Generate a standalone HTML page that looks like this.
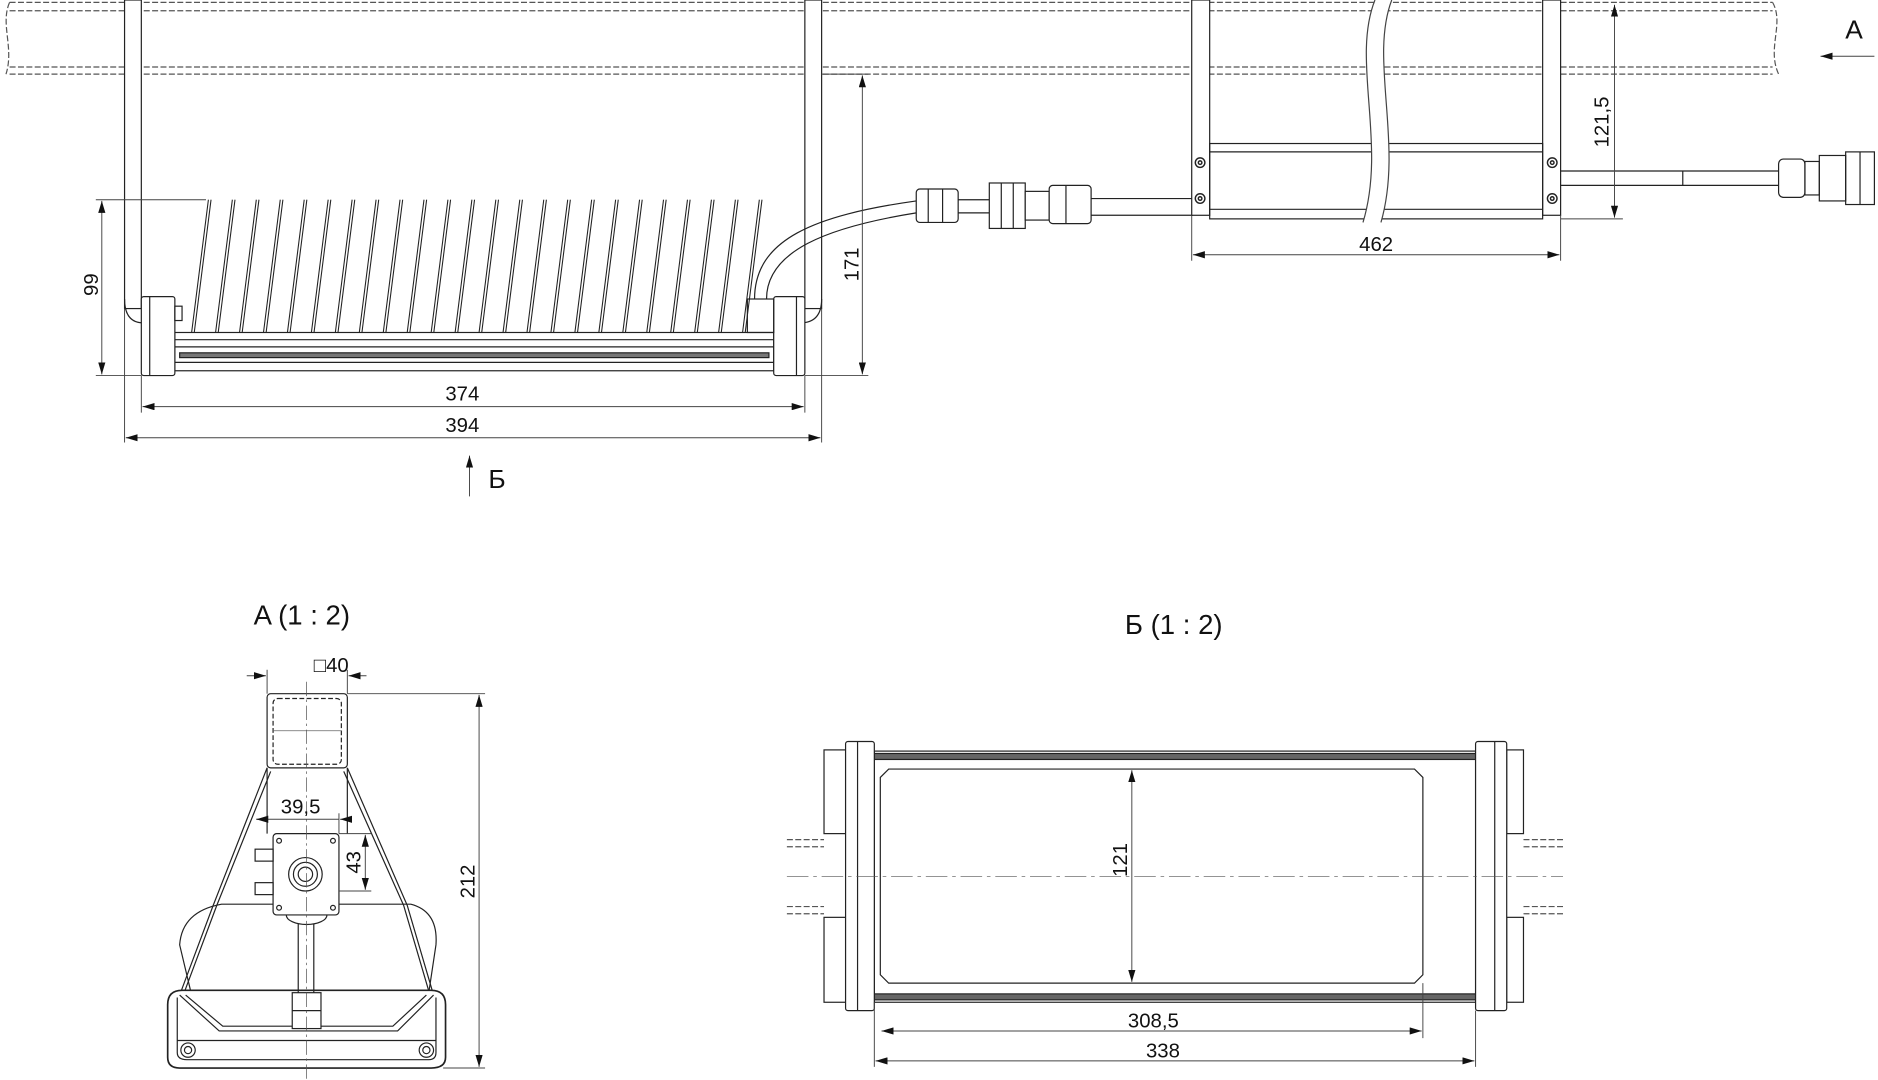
<!DOCTYPE html>
<html><head><meta charset="utf-8"><style>
html,body{margin:0;padding:0;background:#fff;}
svg{display:block;}
text{font-family:"Liberation Sans","DejaVu Sans",sans-serif;fill:#111;}
</style></head><body>
<svg width="1878" height="1080" viewBox="0 0 1568 903" preserveAspectRatio="none" xmlns="http://www.w3.org/2000/svg">
<defs>
<marker id="a" viewBox="0 0 10 6" refX="10" refY="3" markerWidth="10" markerHeight="6" orient="auto-start-reverse" markerUnits="userSpaceOnUse"><path d="M0,0 L10,3 L0,6 Z" fill="#111"/></marker>
</defs>
<g fill="none" stroke="#222" stroke-width="1">
<!-- pipe -->
<g stroke-dasharray="5,2" stroke="#555">
<line x1="8" y1="2" x2="1480" y2="2"/><line x1="8" y1="9" x2="1480" y2="9"/>
<line x1="8" y1="56" x2="1480" y2="56"/><line x1="8" y1="62" x2="1480" y2="62"/>
<path d="M8,2 C0,20 12,40 5,62"/><path d="M1480,2 C1490,20 1475,40 1485,62"/>
</g>
<!-- left brackets -->
<rect x="104" y="0" width="14" height="258" fill="#fff"/>
<path d="M104,250 Q104,270 120,270"/>
<rect x="672" y="0" width="14" height="258" fill="#fff"/>
<path d="M686,250 Q686,270 668,270"/>
<!-- slats -->
<g stroke-width="0.9">
<path d="M174,167 L160,278 M194,167 L180,278 M214,167 L200,278 M234,167 L220,278 M254,167 L240,278 M274,167 L260,278 M294,167 L280,278 M314,167 L300,278 M334,167 L320,278 M354,167 L340,278 M374,167 L360,278 M394,167 L380,278 M414,167 L400,278 M434,167 L420,278 M454,167 L440,278 M474,167 L460,278 M494,167 L480,278 M514,167 L500,278 M534,167 L520,278 M554,167 L540,278 M574,167 L560,278 M594,167 L580,278 M614,167 L600,278 M634,167 L620,278"/>
<path transform="translate(2.2,0)" d="M174,167 L160,278 M194,167 L180,278 M214,167 L200,278 M234,167 L220,278 M254,167 L240,278 M274,167 L260,278 M294,167 L280,278 M314,167 L300,278 M334,167 L320,278 M354,167 L340,278 M374,167 L360,278 M394,167 L380,278 M414,167 L400,278 M434,167 L420,278 M454,167 L440,278 M474,167 L460,278 M494,167 L480,278 M514,167 L500,278 M534,167 L520,278 M554,167 L540,278 M574,167 L560,278 M594,167 L580,278 M614,167 L600,278 M634,167 L620,278"/>
</g>
<!-- bar -->
<rect x="146" y="278" width="500" height="32" fill="#fff"/>
<line x1="146" y1="284" x2="646" y2="284"/><line x1="146" y1="290" x2="646" y2="290"/>
<rect x="150" y="295" width="492" height="4" fill="#777"/>
<line x1="146" y1="303" x2="646" y2="303"/>
<rect x="118" y="248" width="28" height="66" fill="#fff" rx="2"/><line x1="125" y1="248" x2="125" y2="314"/>
<rect x="646" y="248" width="26" height="66" fill="#fff" rx="2"/><line x1="665" y1="248" x2="665" y2="314"/>
<rect x="146" y="256" width="6" height="12"/><rect x="624" y="250" width="22" height="28"/>
<!-- cable -->
<path d="M630,250 C630,200 680,180 765,168"/><path d="M640,250 C640,210 690,190 765,178"/>
<rect x="765" y="158" width="35" height="28" rx="3" fill="#fff"/>
<line x1="775" y1="158" x2="775" y2="186"/><line x1="787" y1="158" x2="787" y2="186"/>
<line x1="800" y1="167" x2="826" y2="167"/><line x1="800" y1="178" x2="826" y2="178"/>
<rect x="826" y="153" width="30" height="38" fill="#fff"/><line x1="836" y1="153" x2="836" y2="191"/><line x1="846" y1="153" x2="846" y2="191"/>
<rect x="856" y="160" width="20" height="24" fill="#fff"/>
<rect x="876" y="155" width="35" height="32" rx="3" fill="#fff"/><line x1="890" y1="155" x2="890" y2="187"/>
<line x1="911" y1="166" x2="996" y2="166"/><line x1="911" y1="180" x2="996" y2="180"/>
<!-- box -->
<rect x="995" y="0" width="15" height="180" fill="#fff"/>
<rect x="1288" y="0" width="15" height="180" fill="#fff"/>
<rect x="1010" y="120" width="278" height="63"/><line x1="1010" y1="127" x2="1288" y2="127"/><line x1="1010" y1="175" x2="1288" y2="175"/>
<!-- break -->
<path d="M1148,0 C1128,50 1158,120 1138,186 L1153,186 C1172,120 1143,50 1162,0 Z" fill="#fff" stroke="none"/>
<path d="M1148,0 C1128,50 1158,120 1138,186" stroke="#444"/>
<path d="M1162,0 C1143,50 1172,120 1153,186" stroke="#444"/>
<g stroke-width="1.2"><circle cx="1002" cy="136" r="4"/><circle cx="1002" cy="136" r="1.5"/><circle cx="1002" cy="166" r="4"/><circle cx="1002" cy="166" r="1.5"/><circle cx="1296" cy="136" r="4"/><circle cx="1296" cy="136" r="1.5"/><circle cx="1296" cy="166" r="4"/><circle cx="1296" cy="166" r="1.5"/></g>
<line x1="1303" y1="143" x2="1485" y2="143"/><line x1="1303" y1="155" x2="1485" y2="155"/><line x1="1405" y1="143" x2="1405" y2="155"/>
<rect x="1485" y="133" width="22" height="32" rx="4" fill="#fff"/><rect x="1507" y="135" width="12" height="28"/>
<rect x="1519" y="130" width="22" height="38"/><rect x="1541" y="127" width="24" height="44"/>
<line x1="1553" y1="127" x2="1553" y2="171"/>
<!-- dims top -->
<g stroke="#444" stroke-width="0.8">
<line x1="80" y1="167" x2="172" y2="167"/><line x1="80" y1="314" x2="118" y2="314"/>
<line x1="85" y1="168" x2="85" y2="313" marker-start="url(#a)" marker-end="url(#a)"/>
<line x1="686" y1="62" x2="725" y2="62"/><line x1="672" y1="314" x2="725" y2="314"/>
<line x1="720" y1="63" x2="720" y2="313" marker-start="url(#a)" marker-end="url(#a)"/>
<line x1="118" y1="314" x2="118" y2="345"/><line x1="672" y1="314" x2="672" y2="345"/>
<line x1="119" y1="340" x2="671" y2="340" marker-start="url(#a)" marker-end="url(#a)"/>
<line x1="104" y1="258" x2="104" y2="370"/><line x1="686" y1="258" x2="686" y2="370"/>
<line x1="105" y1="366" x2="685" y2="366" marker-start="url(#a)" marker-end="url(#a)"/>
<line x1="995" y1="180" x2="995" y2="218"/><line x1="1303" y1="180" x2="1303" y2="218"/>
<line x1="996" y1="213" x2="1302" y2="213" marker-start="url(#a)" marker-end="url(#a)"/>
<line x1="1303" y1="183" x2="1355" y2="183"/>
<line x1="1348" y1="4" x2="1348" y2="182" marker-start="url(#a)" marker-end="url(#a)"/>
<line x1="1565" y1="47" x2="1520" y2="47" marker-end="url(#a)"/>
<line x1="392" y1="415" x2="392" y2="381" marker-end="url(#a)"/>
</g>
<!-- View A -->
<rect x="223" y="580" width="67" height="62" rx="3" fill="#fff"/>
<rect x="228" y="584" width="57" height="55" rx="4" stroke-dasharray="4,2"/>
<line x1="228" y1="611" x2="285" y2="611" stroke="#666" stroke-width="0.7"/>
<line x1="223" y1="642" x2="223" y2="697"/><line x1="290" y1="642" x2="290" y2="697"/>
<path d="M223,642 L178,757 L150,832"/><path d="M226,645 L181,757 L153,832"/>
<path d="M290,642 L340,757 L362,832"/><path d="M287,645 L337,757 L359,832"/>
<path d="M160,832 L150,790 Q152,762 185,756 L343,756 Q366,762 364,790 L358,830"/>
<path d="M152,828 Q140,828 140,840 L140,884 Q140,893 150,893 L360,893 Q372,893 372,884 L372,840 Q372,828 360,828 Z" fill="#fff" stroke-width="1.4"/>
<path d="M148,834 L148,880 Q148,886 156,886 L358,886 Q364,886 364,880 L364,834"/>
<path d="M150,832 L183,862 L332,862 L362,832"/><path d="M155,832 L186,858 L328,858 L356,832"/>
<line x1="148" y1="870" x2="364" y2="870"/>
<circle cx="157" cy="878" r="6"/><circle cx="157" cy="878" r="3"/><circle cx="356" cy="878" r="6"/><circle cx="356" cy="878" r="3"/>
<path d="M249,768 L249,830 M262,768 L262,830"/>
<rect x="244" y="830" width="24" height="30" fill="#fff"/><line x1="244" y1="845" x2="268" y2="845"/>
<ellipse cx="256" cy="765" rx="17" ry="8" fill="#fff"/>
<rect x="228" y="697" width="55" height="68" rx="3" fill="#fff"/>
<circle cx="233" cy="703" r="2"/><circle cx="278" cy="703" r="2"/><circle cx="233" cy="759" r="2"/><circle cx="278" cy="759" r="2"/>
<circle cx="255" cy="731" r="14"/><circle cx="255" cy="731" r="10"/><circle cx="255" cy="731" r="6"/>
<rect x="213" y="710" width="15" height="10"/><rect x="213" y="738" width="15" height="10"/>
<line x1="256" y1="570" x2="256" y2="903" stroke="#555" stroke-width="0.6" stroke-dasharray="12,3,2,3"/>
<g stroke="#444" stroke-width="0.8">
<line x1="223" y1="560" x2="223" y2="580"/><line x1="290" y1="560" x2="290" y2="580"/>
<line x1="206" y1="565" x2="222" y2="565" marker-end="url(#a)"/><line x1="306" y1="565" x2="291" y2="565" marker-end="url(#a)"/>
<line x1="290" y1="580" x2="405" y2="580"/><line x1="370" y1="893" x2="405" y2="893"/>
<line x1="400" y1="581" x2="400" y2="892" marker-start="url(#a)" marker-end="url(#a)"/>
<line x1="283" y1="697" x2="310" y2="697"/><line x1="283" y1="745" x2="310" y2="745"/>
<line x1="305" y1="698" x2="305" y2="744" marker-start="url(#a)" marker-end="url(#a)"/>
<line x1="214" y1="685" x2="283" y2="685"/>
<line x1="214" y1="685" x2="222" y2="685" marker-start="url(#a)"/><line x1="283" y1="680" x2="283" y2="697"/>
<line x1="293" y1="685" x2="284" y2="685" marker-end="url(#a)"/>
</g>
<!-- View B -->
<g stroke="#555" stroke-dasharray="5,2">
<line x1="657" y1="702" x2="688" y2="702"/><line x1="657" y1="708" x2="688" y2="708"/>
<line x1="657" y1="758" x2="688" y2="758"/><line x1="657" y1="764" x2="688" y2="764"/>
<line x1="1272" y1="702" x2="1305" y2="702"/><line x1="1272" y1="708" x2="1305" y2="708"/>
<line x1="1272" y1="758" x2="1305" y2="758"/><line x1="1272" y1="764" x2="1305" y2="764"/>
</g>
<rect x="688" y="627" width="18" height="70" fill="#fff"/><rect x="688" y="767" width="18" height="71" fill="#fff"/>
<rect x="1258" y="627" width="14" height="70" fill="#fff"/><rect x="1258" y="767" width="14" height="71" fill="#fff"/>
<rect x="730" y="628" width="502" height="210" fill="#fff"/>
<rect x="730" y="630" width="502" height="5" fill="#666"/><rect x="730" y="831" width="502" height="5" fill="#666"/>
<path d="M742,643 L1181,643 L1188,650 L1188,815 L1181,822 L742,822 L735,815 L735,650 Z"/>
<rect x="706" y="620" width="24" height="225" rx="2" fill="#fff"/><line x1="716" y1="620" x2="716" y2="845"/>
<rect x="1232" y="620" width="26" height="225" rx="2" fill="#fff"/><line x1="1248" y1="620" x2="1248" y2="845"/>
<line x1="657" y1="733" x2="1305" y2="733" stroke="#555" stroke-width="0.6" stroke-dasharray="18,4,3,4"/>
<g stroke="#444" stroke-width="0.8">
<line x1="945" y1="644" x2="945" y2="821" marker-start="url(#a)" marker-end="url(#a)"/>
<line x1="1188" y1="822" x2="1188" y2="868"/><line x1="730" y1="838" x2="730" y2="892"/><line x1="1232" y1="845" x2="1232" y2="892"/>
<line x1="736" y1="862" x2="1187" y2="862" marker-start="url(#a)" marker-end="url(#a)"/>
<line x1="731" y1="887" x2="1231" y2="887" marker-start="url(#a)" marker-end="url(#a)"/>
</g>
</g>
<!-- text -->
<g font-size="17">
<text x="82" y="238" text-anchor="middle" transform="rotate(-90 82 238)">99</text>
<text x="717" y="221" text-anchor="middle" transform="rotate(-90 717 221)">171</text>
<text x="386" y="335" text-anchor="middle">374</text>
<text x="386" y="361" text-anchor="middle">394</text>
<text x="1149" y="210" text-anchor="middle">462</text>
<text x="1343" y="102" text-anchor="middle" transform="rotate(-90 1343 102)">121,5</text>
<text x="1548" y="32" text-anchor="middle" font-size="22">A</text>
<text x="415" y="408" text-anchor="middle" font-size="22">Б</text>
<text x="252" y="522" text-anchor="middle" font-size="23">A (1 : 2)</text>
<text x="980" y="530" text-anchor="middle" font-size="23">Б (1 : 2)</text>
<text x="262" y="562">□40</text>
<text x="251" y="680" text-anchor="middle">39,5</text>
<text x="301" y="721" text-anchor="middle" transform="rotate(-90 301 721)">43</text>
<text x="396" y="737" text-anchor="middle" transform="rotate(-90 396 737)">212</text>
<text x="941" y="719" text-anchor="middle" transform="rotate(-90 941 719)">121</text>
<text x="963" y="859" text-anchor="middle">308,5</text>
<text x="971" y="884" text-anchor="middle">338</text>
</g>
</svg>
</body></html>
